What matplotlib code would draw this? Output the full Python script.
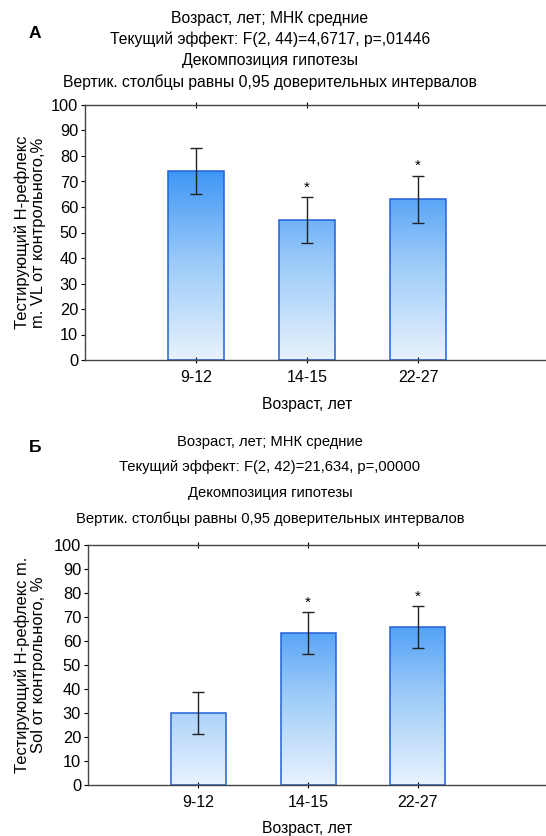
import numpy as np
import matplotlib
matplotlib.use('Agg')
import matplotlib.pyplot as plt
from matplotlib.colors import LinearSegmentedColormap

plt.rcParams['font.family'] = ['Liberation Sans', 'DejaVu Sans']

# данные
groups = ['9-12', '14-15', '22-27']
mean_a = [74.0, 54.8, 63.0]
ci_a = [9.0, 9.0, 9.3]
star_a = [False, True, True]
mean_b = [30.0, 63.3, 65.8]
ci_b = [8.6, 8.6, 8.7]
star_b = [False, True, True]

title_a = ['Возраст, лет; МНК средние',
           'Текущий эффект: F(2, 44)=4,6717, p=,01446',
           'Декомпозиция гипотезы',
           'Вертик. столбцы равны 0,95 доверительных интервалов']
title_b = ['Возраст, лет; МНК средние',
           'Текущий эффект: F(2, 42)=21,634, p=,00000',
           'Декомпозиция гипотезы',
           'Вертик. столбцы равны 0,95 доверительных интервалов']
ylab_a = 'Тестирующий Н-рефлекс\nm. VL от контрольного,%'
ylab_b = 'Тестирующий Н-рефлекс m.\nSol от контрольного, %'
xlab = 'Возраст, лет'

cmap = LinearSegmentedColormap.from_list('grad', ['#e8f2fd', '#9ccbf9', '#3a94f5'])

fig = plt.figure(figsize=(5.46, 8.36), dpi=100)


def draw_panel(rect, means, cis, stars, xmax):
    ax = fig.add_axes(rect)
    x = np.arange(1, len(groups) + 1)
    w = 0.5
    for xi, m in zip(x, means):
        grad = np.linspace(0, m, 200).reshape(-1, 1)
        ax.imshow(grad, cmap=cmap, vmin=0, vmax=76, aspect='auto', origin='lower',
                  extent=(xi - w / 2, xi + w / 2, 0, m), zorder=1)
    ax.bar(x, means, width=w, facecolor='none', edgecolor='#2262d6', linewidth=1.1, zorder=2)
    ax.errorbar(x, means, yerr=cis, fmt='none', ecolor='#222222', elinewidth=1.0,
                capsize=4.5, capthick=1.0, zorder=3)
    for xi, m, c, s in zip(x, means, cis, stars):
        if s:
            ax.annotate('*', (xi, m + c), xytext=(0, 2), textcoords='offset points',
                        ha='center', va='bottom', fontsize=11)
    ax.set_xlim(0, xmax)
    ax.set_ylim(0, 100)
    ax.set_yticks(range(0, 101, 10))
    ax.set_xticks(x)
    ax.set_xticklabels(groups)
    ax.spines['right'].set_visible(False)
    for sp in ['left', 'bottom', 'top']:
        ax.spines[sp].set_color('#444444')
        ax.spines[sp].set_linewidth(1.0)
    ax.tick_params(axis='y', direction='out', length=3, width=0.8, labelsize=11.8, pad=2)
    ax.tick_params(axis='x', direction='inout', length=4, width=0.8, labelsize=11.5,
                   top=True, pad=5)
    return ax


ax1 = draw_panel([85 / 546, 1 - 360 / 836, 461 / 546, 255 / 836], mean_a, ci_a, star_a, 461 / 111)
ax2 = draw_panel([88 / 546, 1 - 785 / 836, 458 / 546, 240 / 836], mean_b, ci_b, star_b, 458 / 110)

ax1.set_ylabel(ylab_a, fontsize=11.9, linespacing=1.1)
ax2.set_ylabel(ylab_b, fontsize=11.9, linespacing=1.1)
ax1.yaxis.set_label_coords(-39 / 461, 0.5)
ax2.yaxis.set_label_coords(-42 / 458, 0.5)

for i, line in enumerate(title_a):
    fig.text(270 / 546, 1 - (18 + i * 21.5) / 836, line, ha='center', va='center', fontsize=11.3)
for i, line in enumerate(title_b):
    fig.text(270 / 546, 1 - (442 + i * 25.5) / 836, line, ha='center', va='center', fontsize=10.6)

fig.text(35 / 546, 1 - 33 / 836, 'А', ha='center', va='center', fontsize=12.5, fontweight='bold')
fig.text(35 / 546, 1 - 447 / 836, 'Б', ha='center', va='center', fontsize=12.5, fontweight='bold')

fig.text(307 / 546, 1 - 405 / 836, xlab, ha='center', va='center', fontsize=11.3)
fig.text(307 / 546, 1 - 828 / 836, xlab, ha='center', va='center', fontsize=11.3)

fig.savefig('out.png', dpi=100)
